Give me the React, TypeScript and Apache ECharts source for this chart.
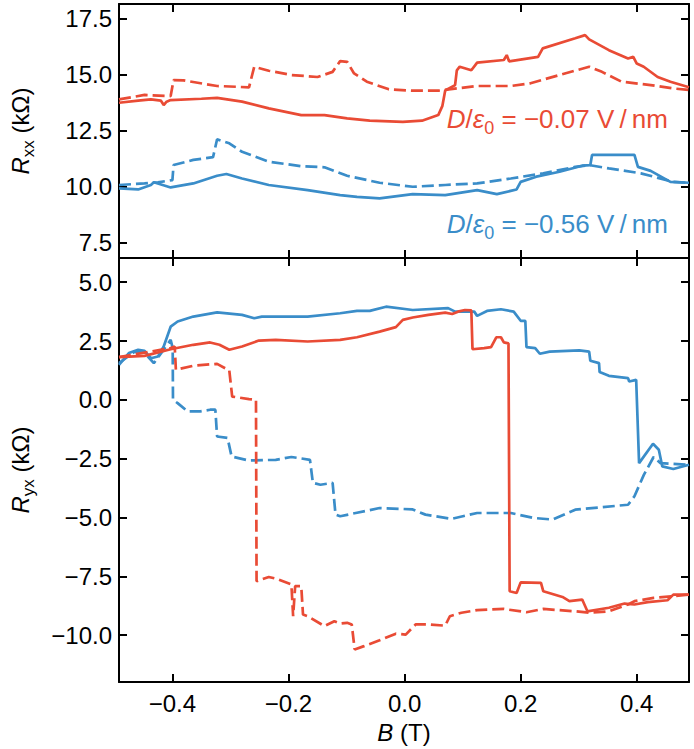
import React, { useEffect, useRef } from "react";
import * as echarts from "echarts";

const FONT = "'Liberation Sans', Arial, Helvetica, sans-serif";
const RED = "#E94B35";
const BLUE = "#3A8DC9";

const B_MIN = -0.492;
const B_MAX = 0.49;
const B_TICKS = [-0.4, -0.2, 0, 0.2, 0.4];
const RXX_MIN = 6.82;
const RXX_MAX = 18.16;
const RXX_TICKS = [7.5, 10, 12.5, 15, 17.5];
const RYX_MIN = -12.0;
const RYX_MAX = 6.03;
const RYX_TICKS = [-10, -7.5, -5, -2.5, 0, 2.5, 5];

// Rxx, D/eps0 = -0.07 V/nm
const rxxRedSolid: [number, number][] = [
  [-0.492, 13.75], [-0.459, 13.85], [-0.437, 13.9], [-0.42, 13.85], [-0.415, 13.65], [-0.41, 13.8],
  [-0.403, 13.87], [-0.35, 13.93], [-0.323, 13.97], [-0.28, 13.8], [-0.234, 13.5], [-0.178, 13.2],
  [-0.138, 13.2], [-0.099, 13.05], [-0.06, 12.95], [-0.003, 12.9], [0.03, 12.95], [0.058, 13.2],
  [0.065, 13.6], [0.07, 14.3], [0.087, 14.54], [0.09, 15.2], [0.095, 15.36], [0.115, 15.2],
  [0.125, 15.54], [0.171, 15.66], [0.176, 15.88], [0.18, 15.6], [0.23, 15.8], [0.238, 16.18],
  [0.294, 16.63], [0.311, 16.77], [0.318, 16.58], [0.352, 16.1], [0.385, 15.73], [0.394, 15.8],
  [0.4, 15.5], [0.412, 15.36], [0.436, 14.9], [0.458, 14.69], [0.49, 14.44],
];
const rxxRedDashed: [number, number][] = [
  [-0.492, 13.9], [-0.448, 14.1], [-0.403, 14.05], [-0.398, 14.76], [-0.381, 14.75], [-0.323, 14.5],
  [-0.268, 14.44], [-0.259, 15.36], [-0.234, 15.18], [-0.195, 14.99], [-0.15, 14.9], [-0.124, 15.13],
  [-0.111, 15.61], [-0.099, 15.58], [-0.087, 15.06], [-0.065, 14.69], [-0.027, 14.35], [0.014, 14.29],
  [0.058, 14.29], [0.125, 14.5], [0.183, 14.5], [0.217, 14.62], [0.267, 14.99], [0.318, 15.36],
  [0.34, 15.13], [0.374, 14.69], [0.424, 14.54], [0.463, 14.39], [0.49, 14.32],
];
// Rxx, D/eps0 = -0.56 V/nm
const rxxBlueSolid: [number, number][] = [
  [-0.492, 9.93], [-0.459, 9.88], [-0.437, 10.08], [-0.432, 10.2], [-0.403, 9.97], [-0.364, 10.15],
  [-0.323, 10.49], [-0.307, 10.57], [-0.28, 10.37], [-0.234, 10.08], [-0.167, 9.85], [-0.111, 9.63],
  [-0.082, 9.55], [-0.043, 9.48], [0.014, 9.67], [0.07, 9.63], [0.125, 9.85], [0.159, 9.67],
  [0.193, 9.88], [0.2, 10.22], [0.227, 10.45], [0.267, 10.67], [0.306, 10.94], [0.32, 10.97],
  [0.323, 11.42], [0.396, 11.42], [0.402, 10.89], [0.424, 10.71], [0.458, 10.22], [0.49, 10.18],
];
const rxxBlueDashed: [number, number][] = [
  [-0.492, 10.08], [-0.448, 10.15], [-0.425, 10.2], [-0.4, 10.3], [-0.398, 10.97], [-0.364, 11.2],
  [-0.33, 11.32], [-0.323, 12.12], [-0.302, 11.94], [-0.28, 11.56], [-0.234, 11.12], [-0.178, 10.92],
  [-0.138, 10.87], [-0.099, 10.49], [-0.043, 10.18], [0.014, 10.0], [0.07, 10.08], [0.125, 10.15],
  [0.183, 10.37], [0.239, 10.6], [0.294, 10.89], [0.318, 10.97], [0.352, 10.82], [0.407, 10.6],
  [0.463, 10.22], [0.49, 10.18],
];
// Ryx, D/eps0 = -0.07 V/nm
const ryxRedSolid: [number, number][] = [
  [-0.492, 1.82], [-0.448, 1.87], [-0.403, 2.15], [-0.364, 2.34], [-0.335, 2.44], [-0.319, 2.34],
  [-0.302, 2.13], [-0.28, 2.27], [-0.251, 2.52], [-0.222, 2.55], [-0.167, 2.48], [-0.111, 2.55],
  [-0.082, 2.66], [-0.043, 2.9], [-0.015, 3.09], [-0.003, 3.4], [0.014, 3.5], [0.041, 3.61],
  [0.07, 3.71], [0.082, 3.65], [0.092, 3.75], [0.104, 3.82], [0.115, 3.8], [0.117, 2.15],
  [0.137, 2.2], [0.149, 2.24], [0.158, 2.66], [0.166, 2.66], [0.171, 2.44], [0.179, 2.4],
  [0.181, -8.14], [0.193, -8.21], [0.2, -7.76], [0.235, -7.78], [0.239, -8.14], [0.272, -8.38],
  [0.284, -8.56], [0.306, -8.49], [0.315, -8.99], [0.352, -8.84], [0.379, -8.66], [0.396, -8.7],
  [0.419, -8.6], [0.453, -8.52], [0.463, -8.28], [0.49, -8.28],
];
const ryxRedDashed: [number, number][] = [
  [-0.492, 1.82], [-0.403, 2.2], [-0.396, 2.27], [-0.394, 1.28], [-0.364, 1.45], [-0.323, 1.53],
  [-0.302, 1.25], [-0.297, 0.14], [-0.268, 0.03], [-0.256, 0.0], [-0.255, -7.71], [-0.234, -7.53],
  [-0.222, -7.6], [-0.195, -7.85], [-0.192, -9.2], [-0.1885, -7.92], [-0.178, -7.92], [-0.175, -9.13],
  [-0.167, -9.2], [-0.138, -9.62], [-0.121, -9.41], [-0.111, -9.51], [-0.099, -9.48], [-0.091, -9.55],
  [-0.086, -10.61], [-0.07, -10.47], [-0.043, -10.22], [-0.015, -9.94], [0.002, -9.98], [0.019, -9.55],
  [0.041, -9.55], [0.07, -9.6], [0.078, -9.2], [0.098, -9.05], [0.125, -8.94], [0.171, -8.89],
  [0.21, -9.03], [0.239, -8.89], [0.294, -8.99], [0.318, -9.05], [0.352, -8.99], [0.385, -8.7],
  [0.396, -8.56], [0.429, -8.42], [0.463, -8.35], [0.49, -8.28],
];
// Ryx, D/eps0 = -0.56 V/nm
const ryxBlueSolid: [number, number][] = [
  [-0.492, 1.49], [-0.475, 1.99], [-0.459, 2.13], [-0.448, 2.08], [-0.437, 1.77], [-0.425, 1.84],
  [-0.415, 2.27], [-0.403, 3.11], [-0.391, 3.33], [-0.364, 3.54], [-0.323, 3.72], [-0.28, 3.61],
  [-0.259, 3.47], [-0.246, 3.54], [-0.167, 3.54], [-0.111, 3.68], [-0.082, 3.78], [-0.06, 3.78],
  [-0.032, 3.96], [0.014, 3.82], [0.075, 3.9], [0.087, 3.75], [0.12, 3.75], [0.125, 3.57],
  [0.142, 3.78], [0.166, 3.85], [0.188, 3.75], [0.2, 3.36], [0.208, 3.36], [0.21, 2.24],
  [0.225, 2.2], [0.233, 1.96], [0.25, 2.05], [0.301, 2.1], [0.318, 2.05], [0.32, 1.66],
  [0.335, 1.56], [0.336, 1.18], [0.352, 1.02], [0.385, 0.92], [0.387, 0.78], [0.399, 0.85],
  [0.404, -2.69], [0.428, -1.87], [0.438, -2.12], [0.444, -2.83], [0.463, -2.94], [0.49, -2.76],
];
const ryxBlueDashed: [number, number][] = [
  [-0.492, 1.56], [-0.465, 2.05], [-0.448, 2.0], [-0.432, 1.56], [-0.415, 2.13], [-0.403, 2.55],
  [-0.3995, 2.2], [-0.399, 0.0], [-0.391, -0.14], [-0.374, -0.49], [-0.352, -0.49], [-0.335, -0.42],
  [-0.326, -0.42], [-0.323, -1.56], [-0.305, -1.62], [-0.298, -2.41], [-0.268, -2.58], [-0.222, -2.55],
  [-0.195, -2.43], [-0.163, -2.55], [-0.158, -3.53], [-0.145, -3.61], [-0.124, -3.53], [-0.119, -4.88],
  [-0.111, -4.95], [-0.082, -4.8], [-0.043, -4.6], [-0.003, -4.64], [0.014, -4.66], [0.036, -4.88],
  [0.081, -5.06], [0.125, -4.81], [0.183, -4.81], [0.222, -5.02], [0.255, -5.09], [0.294, -4.67],
  [0.385, -4.46], [0.396, -4.1], [0.412, -3.2], [0.429, -2.43], [0.441, -2.69], [0.49, -2.76],
];

const fmt = (v: number) => v.toFixed(1).replace("-", "\u2212");

const richName = {
  i: { fontStyle: "italic", fontSize: 24, fontFamily: FONT, color: "#000", lineHeight: 26, verticalAlign: "top" },
  n: { fontSize: 24, fontFamily: FONT, color: "#000", lineHeight: 26, verticalAlign: "top" },
  sub: { fontSize: 17, fontFamily: FONT, color: "#000", lineHeight: 19, padding: [12, 0, 0, 0], verticalAlign: "top" },
};

function xAxisDef(grid: number, pos: "top" | "bottom", labels: boolean): any {
  return {
    type: "value",
    gridIndex: grid,
    position: pos,
    min: B_MIN,
    max: B_MAX,
    axisLine: { show: true, onZero: false, lineStyle: { color: "#000", width: 2 } },
    axisTick: { show: true, inside: true, length: 8, customValues: B_TICKS, lineStyle: { color: "#000", width: 2 } },
    axisLabel: {
      show: labels,
      customValues: B_TICKS,
      formatter: fmt,
      fontSize: 24,
      fontFamily: FONT,
      color: "#000",
      margin: 9,
    },
    splitLine: { show: false },
    ...(labels
      ? {
          name: "{i|B}{n| (T)}",
          nameLocation: "middle",
          nameGap: 31,
          nameTextStyle: { rich: richName },
        }
      : {}),
  };
}

function yAxisDef(grid: number, pos: "left" | "right", min: number, max: number, ticks: number[], name?: string): any {
  const labels = !!name;
  return {
    type: "value",
    gridIndex: grid,
    position: pos,
    min,
    max,
    axisLine: { show: true, onZero: false, lineStyle: { color: "#000", width: 2 } },
    axisTick: { show: true, inside: true, length: 8, customValues: ticks, lineStyle: { color: "#000", width: 2 } },
    axisLabel: {
      show: labels,
      customValues: ticks,
      formatter: fmt,
      fontSize: 24,
      fontFamily: FONT,
      color: "#000",
      margin: 7,
    },
    splitLine: { show: false },
    ...(labels
      ? {
          name,
          nameLocation: "middle",
          nameGap: 85,
          nameRotate: 90,
          nameTextStyle: { rich: richName },
        }
      : {}),
  };
}

function lineSeries(data: [number, number][], color: string, dashed: boolean, axis: number): any {
  return {
    type: "line",
    xAxisIndex: axis,
    yAxisIndex: axis,
    data,
    showSymbol: false,
    symbol: "none",
    lineStyle: { color, width: 2.7, type: dashed ? [12, 5] : "solid" },
    silent: true,
    z: color === RED ? 3 : 2,
  };
}

const annoRich = (color: string) => ({
  i: { fontStyle: "italic", fontSize: 26, fontFamily: FONT, fill: color, lineHeight: 28, verticalAlign: "top" },
  n: { fontSize: 26, fontFamily: FONT, fill: color, lineHeight: 28, verticalAlign: "top" },
  sub: { fontSize: 18, fontFamily: FONT, fill: color, lineHeight: 19, padding: [13, 0, 0, 0], verticalAlign: "top" },
});

export default function App() {
  const ref = useRef<HTMLDivElement>(null);
  useEffect(() => {
    if (!ref.current) return;
    const chart = echarts.init(ref.current, null, { renderer: "svg" });
    chart.setOption({
      animation: false,
      backgroundColor: "#fff",
      grid: [
        { left: 107, right: 5, top: 4, height: 254 },
        { left: 107, right: 5, top: 258, height: 425 },
      ],
      xAxis: [
        xAxisDef(0, "bottom", false),
        xAxisDef(0, "top", false),
        xAxisDef(1, "bottom", true),
        xAxisDef(1, "top", false),
      ],
      yAxis: [
        yAxisDef(0, "left", RXX_MIN, RXX_MAX, RXX_TICKS, "{i|R}{sub|xx}{n| (kΩ)}"),
        yAxisDef(0, "right", RXX_MIN, RXX_MAX, RXX_TICKS),
        yAxisDef(1, "left", RYX_MIN, RYX_MAX, RYX_TICKS, "{i|R}{sub|yx}{n| (kΩ)}"),
        yAxisDef(1, "right", RYX_MIN, RYX_MAX, RYX_TICKS),
      ],
      series: [
        lineSeries(rxxBlueDashed, BLUE, true, 0),
        lineSeries(rxxBlueSolid, BLUE, false, 0),
        lineSeries(rxxRedDashed, RED, true, 0),
        lineSeries(rxxRedSolid, RED, false, 0),
        lineSeries(ryxBlueDashed, BLUE, true, 2),
        lineSeries(ryxBlueSolid, BLUE, false, 2),
        lineSeries(ryxRedDashed, RED, true, 2),
        lineSeries(ryxRedSolid, RED, false, 2),
      ],
      graphic: [
        {
          type: "text",
          x: 668,
          y: 106,
          style: {
            text: "{i|D}{n|/}{i|ε}{sub|0}{n| = −0.07 V\u2009/\u2009nm}",
            align: "right",
            textAlign: "right",
            verticalAlign: "top",
            rich: annoRich(RED),
          },
        },
        {
          type: "text",
          x: 668,
          y: 211,
          style: {
            text: "{i|D}{n|/}{i|ε}{sub|0}{n| = −0.56 V\u2009/\u2009nm}",
            align: "right",
            textAlign: "right",
            verticalAlign: "top",
            rich: annoRich(BLUE),
          },
        },
      ],
    });
    return () => chart.dispose();
  }, []);
  return (
    <div
      ref={ref}
      style={{ position: "fixed", left: 0, top: 0, width: 694, height: 749, background: "#fff" }}
    />
  );
}
